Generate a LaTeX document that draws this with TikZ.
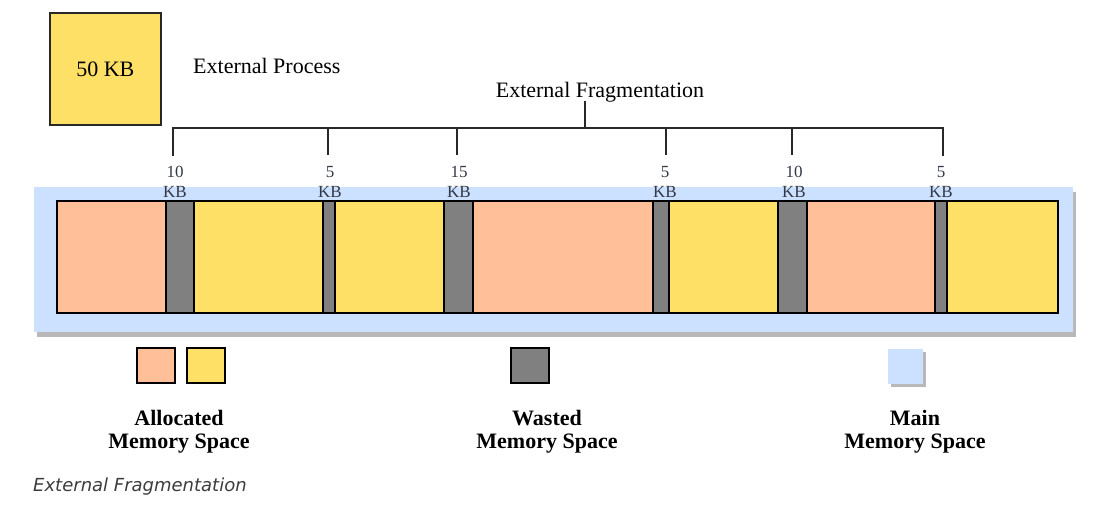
\documentclass[tikz,border=0pt]{standalone}
\usepackage{fontspec}
\setmainfont{Liberation Serif}
\newfontfamily\capfont{DejaVu Sans}
\definecolor{salm}{RGB}{255,192,153}
\definecolor{yell}{RGB}{255,224,102}
\definecolor{wgray}{RGB}{128,128,128}
\definecolor{mblue}{RGB}{204,224,255}
\definecolor{shad}{RGB}{184,184,184}
\definecolor{ink}{RGB}{40,40,40}
\definecolor{lbl}{RGB}{50,56,70}
\begin{document}
\begin{tikzpicture}[x=1pt,y=-1pt,
  seg/.style={draw=black,line width=1.6pt,inner sep=0pt,outer sep=0pt,anchor=north west,minimum height=112pt},
  lgbox/.style={draw=black,line width=1.6pt,inner sep=0pt,outer sep=0pt,anchor=north west,minimum width=38pt,minimum height=35pt},
  brk/.style={draw=ink,line width=1.6pt},
  kb/.style={font=\fontsize{17}{20}\selectfont,text=lbl,align=center,inner sep=0pt},
  lgtext/.style={font=\fontsize{22}{23}\selectfont\bfseries,align=center,inner sep=0pt},
  big/.style={font=\fontsize{22}{26}\selectfont,inner sep=0pt}]
\useasboundingbox[fill=white] (0,0) rectangle (1114,514);
% process box
\node[draw=ink,line width=1.6pt,fill=yell,anchor=north west,minimum width=111pt,minimum height=112pt,inner sep=0pt] (proc) at (49,12) {};
\node[big] (proctext) at (proc.center) {50 KB};
\node[big,anchor=west] (extproc) at (193,66) {External Process};
% main memory background with shadow
\fill[shad] (37,192) rectangle (1076,337);
\node[fill=mblue,anchor=north west,minimum width=1039pt,minimum height=145pt,inner sep=0pt,outer sep=0pt] (mem) at (34,187) {};
% segments
\node[seg,fill=salm,minimum width=109pt] (s1) at (57,201) {};
\node[seg,fill=wgray,minimum width=28pt] (g1) at (166,201) {};
\node[seg,fill=yell,minimum width=129pt] (s2) at (194,201) {};
\node[seg,fill=wgray,minimum width=12pt] (g2) at (323,201) {};
\node[seg,fill=yell,minimum width=109pt] (s3) at (335,201) {};
\node[seg,fill=wgray,minimum width=29pt] (g3) at (444,201) {};
\node[seg,fill=salm,minimum width=180pt] (s4) at (473,201) {};
\node[seg,fill=wgray,minimum width=16pt] (g4) at (653,201) {};
\node[seg,fill=yell,minimum width=109pt] (s5) at (669,201) {};
\node[seg,fill=wgray,minimum width=29pt] (g5) at (778,201) {};
\node[seg,fill=salm,minimum width=128pt] (s6) at (807,201) {};
\node[seg,fill=wgray,minimum width=12pt] (g6) at (935,201) {};
\node[seg,fill=yell,minimum width=111pt] (s7) at (947,201) {};
% labels
\node[kb] (l1) at (175,182) {10\\KB};
\node[kb] (l2) at (330,182) {5\\KB};
\node[kb] (l3) at (459,182) {15\\KB};
\node[kb] (l4) at (665,182) {5\\KB};
\node[kb] (l5) at (794,182) {10\\KB};
\node[kb] (l6) at (941,182) {5\\KB};
% bracket
\node[big] (frag) at (600,92) {External Fragmentation};
\coordinate (t1) at (173,155);
\coordinate (t2) at (328,155);
\coordinate (t3) at (457,155);
\coordinate (t4) at (666,155);
\coordinate (t5) at (792,155);
\coordinate (t6) at (943,155);
\coordinate (b1) at (173,128);
\coordinate (b2) at (328,128);
\coordinate (b3) at (457,128);
\coordinate (b4) at (666,128);
\coordinate (b5) at (792,128);
\coordinate (b6) at (943,128);
\coordinate (bc) at (585,128);
\coordinate (ft) at (585,101);
\draw[brk,line cap=rect] (t1) -- (b1) -- (b6) -- (t6);
\draw[brk] (b2) -- (t2);
\draw[brk] (b3) -- (t3);
\draw[brk] (b4) -- (t4);
\draw[brk] (b5) -- (t5);
\draw[brk] (bc) -- (ft);
% legend
\node[lgbox,fill=salm] (ls) at (137,348) {};
\node[lgbox,fill=yell] (ly) at (187,348) {};
\node[lgbox,fill=wgray] (lg) at (511,348) {};
\fill[shad] (891,352) rectangle (926,387);
\node[fill=mblue,anchor=north west,minimum width=35pt,minimum height=35pt,inner sep=0pt,outer sep=0pt] (lb) at (888,349) {};
\node[lgtext] (ta) at (179,432) {Allocated\\Memory Space};
\node[lgtext] (tw) at (547,432) {Wasted\\Memory Space};
\node[lgtext] (tm) at (915,432) {Main\\Memory Space};
% caption
\node[anchor=west,inner sep=0pt,font=\capfont\itshape\fontsize{18}{20}\selectfont,text=ink!90!white] (cap) at (33,487) {External Fragmentation};
\end{tikzpicture}
\end{document}
